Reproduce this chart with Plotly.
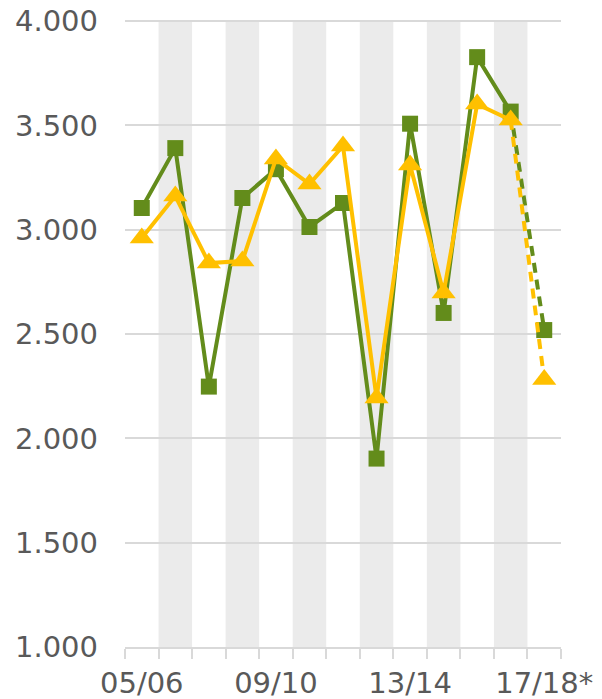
import plotly.graph_objects as go

categories = ["05/06", "06/07", "07/08", "08/09", "09/10", "10/11", "11/12",
              "12/13", "13/14", "14/15", "15/16", "16/17", "17/18*"]
series_green = [3104, 3391, 2248, 3152, 3290, 3013, 3128, 1903, 3508, 2601, 3827, 3566, 2519]
series_yellow = [2960, 3161, 2840, 2850, 3339, 3219, 3401, 2193, 3310, 2697, 3602, 3526, 2282]
y_ticks = [1000, 1500, 2000, 2500, 3000, 3500, 4000]
label_idx = [0, 4, 8, 12]

GREEN = "#638c1b"
YELLOW = "#ffc000"
GRID = "#d9d9d9"
BAND = "#ebebeb"
TXT = "#595959"

x = list(range(len(categories)))
n_solid = len(categories) - 1  # last segment dashed

fig = go.Figure()

for vals, col, sym, size in [(series_green, GREEN, "square", 16),
                             (series_yellow, YELLOW, "triangle-up", 21)]:
    fig.add_trace(go.Scatter(
        x=x[:n_solid], y=vals[:n_solid], mode="lines+markers",
        line=dict(color=col, width=4),
        marker=dict(symbol=sym, size=size, color=col, line=dict(width=0)),
        showlegend=False, hoverinfo="skip", cliponaxis=False))
    fig.add_trace(go.Scatter(
        x=x[n_solid - 1:], y=vals[n_solid - 1:], mode="lines",
        line=dict(color=col, width=4, dash="10px,7px"),
        showlegend=False, hoverinfo="skip"))
    fig.add_trace(go.Scatter(
        x=x[n_solid:], y=vals[n_solid:], mode="markers",
        marker=dict(symbol=sym, size=size, color=col, line=dict(width=0)),
        showlegend=False, hoverinfo="skip"))

shapes = []
for i in x:
    if i % 2 == 1:
        shapes.append(dict(type="rect", xref="x", yref="paper",
                           x0=i - 0.5, x1=i + 0.5, y0=0, y1=1,
                           fillcolor=BAND, line=dict(width=0), layer="below"))
# top gridline (plotly drops the edge gridline)
shapes.append(dict(type="line", xref="paper", yref="y", x0=0, x1=1,
                   y0=y_ticks[-1], y1=y_ticks[-1],
                   line=dict(color=GRID, width=2), layer="between"))

fig.update_layout(
    width=602, height=699,
    margin=dict(l=125, r=41, t=20, b=52, autoexpand=False),
    paper_bgcolor="white", plot_bgcolor="white",
    separators=",.",
    shapes=shapes,
    font=dict(family="DejaVu Sans", size=29, color=TXT),
    xaxis=dict(
        range=[-0.5, len(categories) - 0.5], automargin=False,
        tickmode="array", tickvals=label_idx,
        ticktext=[categories[i] for i in label_idx],
        ticks="", showgrid=False, zeroline=False,
        showline=True, linecolor=GRID, linewidth=2,
        ticklabelstandoff=9, ticklabeloverflow="allow",
        tickfont=dict(family="DejaVu Sans", size=29, color=TXT),
        minor=dict(tickmode="linear", tick0=-0.5, dtick=1, ticks="outside",
                   ticklen=10, tickwidth=2, tickcolor=GRID, showgrid=False),
    ),
    yaxis=dict(
        range=[1000, 4005], tickmode="array", tickvals=y_ticks, automargin=False,
        tickformat=",", showgrid=True, gridcolor=GRID, gridwidth=2,
        zeroline=False, showline=False, ticks="",
        ticklabelstandoff=26, ticklabeloverflow="allow",
        tickfont=dict(family="DejaVu Sans", size=29, color=TXT),
    ),
)

fig.write_html("out.html", config={"displayModeBar": False},
               post_script="document.body.style.margin='0';document.body.style.overflow='hidden';")
